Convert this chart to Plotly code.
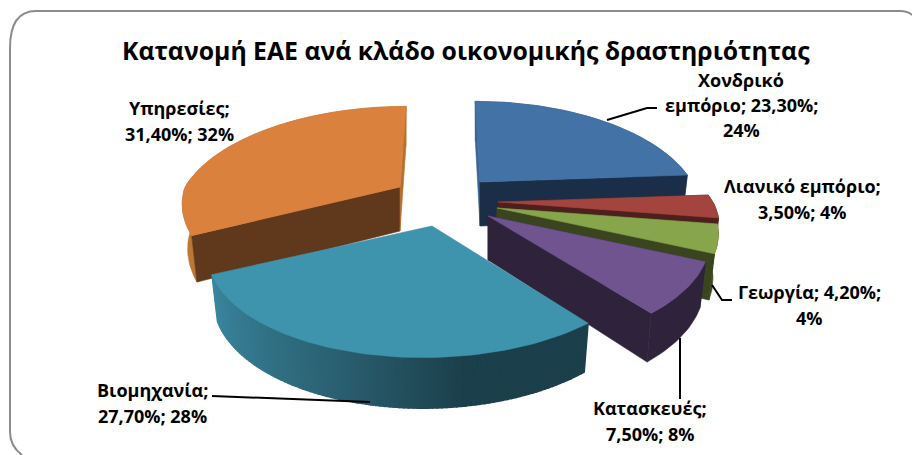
import math
import textwrap
import plotly.graph_objects as go

# ---- data ----
title = "Κατανομή ΕΑΕ ανά κλάδο οικονομικής δραστηριότητας"
categories = ["Χονδρικό εμπόριο", "Λιανικό εμπόριο", "Γεωργία", "Κατασκευές", "Βιομηχανία", "Υπηρεσίες"]
values = [23.3, 3.5, 4.2, 7.5, 27.7, 31.4]

# ---- styles ----
top_colors = ["#4272A6", "#A4443F", "#87A54A", "#6F5490", "#3F94AD", "#D9813D"]
cut_colors = ["#1B2E47", "#4D1F1D", "#3A4520", "#2E233B", "#1B3F4B", "#60381B"]
wall_colors = ["#2F5480", "#4D1F1D", "#3A4520", "#2E233B", None, "#BE7733"]
sliver_colors = ["#3A6391", None, None, None, None, "#B5702F"]
teal_wall_stops = [(142, "#1B3F4B"), (172, "#1C404C"), (197, "#2A5F70"), (222, "#34778C"), (244, "#3B86A0")]

# ---- projection of the exploded pie into the 912x455 picture ----
apexes = [(480, 182), (498, 202), (497, 208), (488, 216), (432, 226), (400, 187)]
rx_scale = [0.985, 1, 1, 1, 1, 1]
front_skew = [0, 0, 0, 0, -9, 18]
R, RY, K, H, VX = 215, 100, 0.24, 44, 445
LOW_X, LOW_Y = 0.975, 1.05

def project(idx, theta, low=False):
    apex = apexes[idx]
    t = math.radians(theta)
    u, v = math.sin(t), -math.cos(t)
    s = 1 / (1 - K * v)
    dx, dy = R * rx_scale[idx] * u * s, RY * v * s
    if v < 0:
        dx += (VX - apex[0]) * (1 - s) * 0.7
    else:
        dx += front_skew[idx] * v
    if low:
        return apex[0] + dx * LOW_X, apex[1] + H + dy * LOW_Y
    return apex[0] + dx, apex[1] + dy

def arc(start, end, step=1.5):
    n = max(2, int(abs(end - start) / step) + 1)
    return [start + (end - start) * i / (n - 1) for i in range(n)]

def hex2rgb(c):
    return tuple(int(c[i:i + 2], 16) for i in (1, 3, 5))

def teal_shade(theta):
    for (a, ca), (b, cb) in zip(teal_wall_stops, teal_wall_stops[1:]):
        if a <= theta <= b:
            f = (theta - a) / (b - a)
            ra, rb = hex2rgb(ca), hex2rgb(cb)
            return "rgb(%d,%d,%d)" % tuple(ra[i] + (rb[i] - ra[i]) * f for i in range(3))
    return teal_wall_stops[-1][1]

fig = go.Figure()

def poly(points, color, name=None, lw=0.6):
    xs = [p[0] for p in points] + [points[0][0]]
    ys = [p[1] for p in points] + [points[0][1]]
    fig.add_trace(go.Scatter(x=xs, y=ys, mode="lines", fill="toself", fillcolor=color,
                             line=dict(color=color, width=lw), hoverinfo="skip",
                             showlegend=False, name=name))

total = sum(values)
angles = [0]
for val in values:
    angles.append(angles[-1] + val / total * 360)

draw_order = [5, 0, 1, 2, 3, 4]
for i in draw_order:
    a0, a1 = angles[i], angles[i + 1]
    apex = apexes[i]
    low_apex = (apex[0], apex[1] + H)
    start_col = sliver_colors[i] or cut_colors[i]
    end_col = cut_colors[i]
    if i == 5:
        start_col, end_col = cut_colors[i], sliver_colors[i]
    # outer wall
    if i == 4:
        thetas = arc(a0, a1, 1.0)
        for t0, t1 in zip(thetas, thetas[1:]):
            poly([project(i, t0), project(i, t1),
                  project(i, t1, True), project(i, t0, True)], teal_shade((t0 + t1) / 2), lw=1.5)
    else:
        thetas = arc(a0, a1)
        poly([project(i, t) for t in thetas] +
             [project(i, t, True) for t in reversed(thetas)], wall_colors[i])
    # radial faces
    if i != 4:
        poly([apex, project(i, a0), project(i, a0, True), low_apex], start_col)
        poly([apex, project(i, a1), project(i, a1, True), low_apex], end_col)
    # top face
    poly([apex] + [project(i, t) for t in arc(a0, a1)], top_colors[i], categories[i])

# ---- leader lines ----
leaders = [
    [(607, 120), (647, 108), (657, 108)],
    [(712, 285), (722, 300), (732, 300)],
    [(680, 338), (680, 399)],
    [(212, 396), (370, 402)],
]
for pts in leaders:
    fig.add_trace(go.Scatter(x=[p[0] for p in pts], y=[p[1] for p in pts], mode="lines",
                             line=dict(color="#000000", width=2), hoverinfo="skip", showlegend=False))

# ---- labels ----
label_pos = [(741, 80), (802, 186), (809, 292), (650, 408), (152, 390), (179, 108)]
label_gap = [25, 26, 26, 26, 26, 26]
LABEL_FONT = dict(family="Open Sans", size=18, color="#000000")
annotations = []
for i, (name, val) in enumerate(zip(categories, values)):
    share = round(val / total * 100)
    text = f"{name}; {val:.2f}%; {share}%".replace(".", ",")
    x, y = label_pos[i]
    for j, line in enumerate(textwrap.wrap(text, 16)):
        annotations.append(dict(x=x, y=y + j * label_gap[i], xref="x", yref="y", text=f"<b>{line}</b>",
                                showarrow=False, xanchor="center", yanchor="middle", font=LABEL_FONT))
annotations.append(dict(x=466, y=50, xref="x", yref="y", text=f"<b>{title}</b>", showarrow=False,
                        xanchor="center", yanchor="middle",
                        font=dict(family="Open Sans", size=24.8, color="#000000")))

fig.update_layout(
    width=912, height=455, margin=dict(l=0, r=0, t=0, b=0),
    paper_bgcolor="#FFFFFF", plot_bgcolor="#FFFFFF", showlegend=False,
    xaxis=dict(range=[0, 912], visible=False, fixedrange=True),
    yaxis=dict(range=[455, 0], visible=False, fixedrange=True),
    annotations=annotations,
    shapes=[dict(type="path", xref="x", yref="y",
                 path="M 22,455 Q 10,446 10,432 L 10,48 Q 10,11 36,11 L 900,11 Q 908,11 912,15",
                 line=dict(color="#8C8C8C", width=2))],
)
fig.write_html("out.html", config=dict(displayModeBar=False),
               post_script="document.body.style.margin='0';document.documentElement.style.overflow='hidden';")
